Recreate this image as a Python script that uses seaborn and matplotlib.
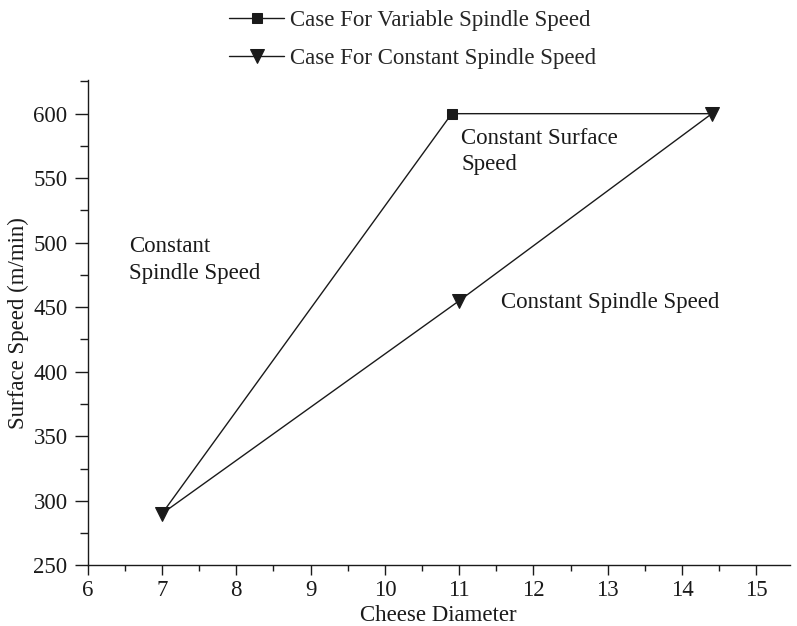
import matplotlib
matplotlib.use("Agg")
import matplotlib.pyplot as plt
from matplotlib.ticker import MultipleLocator
import seaborn as sns
import pandas as pd

variable_x = [7.0, 10.9, 14.4]
variable_y = [290, 600, 600]
constant_x = [7.0, 11.0, 14.4]
constant_y = [290, 455, 600]
series_names = ["Case For Variable Spindle Speed", "Case For Constant Spindle Speed"]

sns.set_theme(style="ticks")
plt.rcParams['font.family'] = ['Liberation Serif', 'DejaVu Serif']

df_var = pd.DataFrame({"x": variable_x, "y": variable_y})
df_con = pd.DataFrame({"x": constant_x, "y": constant_y})

ink = "#1a1a1a"
fs = 16.5

fig = plt.figure(figsize=(7.97, 6.26), dpi=100)
ax = fig.add_axes([0.110, 0.097, 0.881, 0.775])

# square markers only where they are not covered by the triangle markers
sns.lineplot(data=df_var, x="x", y="y", marker="s", markersize=7, color=ink,
             linewidth=1.0, markeredgecolor=ink, sort=False, ax=ax,
             label=series_names[0], zorder=2, markevery=[1])
sns.lineplot(data=df_con, x="x", y="y", marker="v", markersize=10, color=ink,
             linewidth=1.0, markeredgecolor=ink, sort=False, ax=ax,
             label=series_names[1], zorder=4)

ax.set_xlim(6, 15.45)
ax.set_ylim(250, 626)
ax.xaxis.set_major_locator(MultipleLocator(1))
ax.xaxis.set_minor_locator(MultipleLocator(0.5))
ax.yaxis.set_major_locator(MultipleLocator(50))
ax.yaxis.set_minor_locator(MultipleLocator(25))
ax.tick_params(which="major", direction="out", width=1, labelsize=fs, colors=ink)
ax.tick_params(axis="y", which="major", length=9.5, pad=5)
ax.tick_params(axis="x", which="major", length=7.5, pad=3)
ax.tick_params(axis="y", which="minor", length=5.5, width=1, colors=ink)
ax.tick_params(axis="x", which="minor", length=4.5, width=1, colors=ink)
for s in ["top", "right"]:
    ax.spines[s].set_visible(False)
for s in ["left", "bottom"]:
    ax.spines[s].set_color(ink)
    ax.spines[s].set_linewidth(1)

ax.set_xlabel("Cheese Diameter", fontsize=fs, labelpad=3, color=ink)
ax.set_ylabel("Surface Speed (m/min)", fontsize=fs, labelpad=3, color=ink)

ax.text(11.03, 589, "Constant Surface\nSpeed", fontsize=fs, va="top", ha="left",
        linespacing=1.3, color=ink)
ax.text(6.56, 505, "Constant\nSpindle Speed", fontsize=fs, va="top", ha="left",
        linespacing=1.35, color=ink)
ax.text(11.56, 454, "Constant Spindle Speed", fontsize=fs, va="center", ha="left",
        color=ink)

leg = ax.legend(loc="upper center", bbox_to_anchor=(0.463, 1.178), frameon=False,
                fontsize=fs, handlelength=2.4, labelspacing=0.75, handletextpad=0.25,
                borderpad=0.2, numpoints=1)

fig.savefig("out.png", dpi=100)
